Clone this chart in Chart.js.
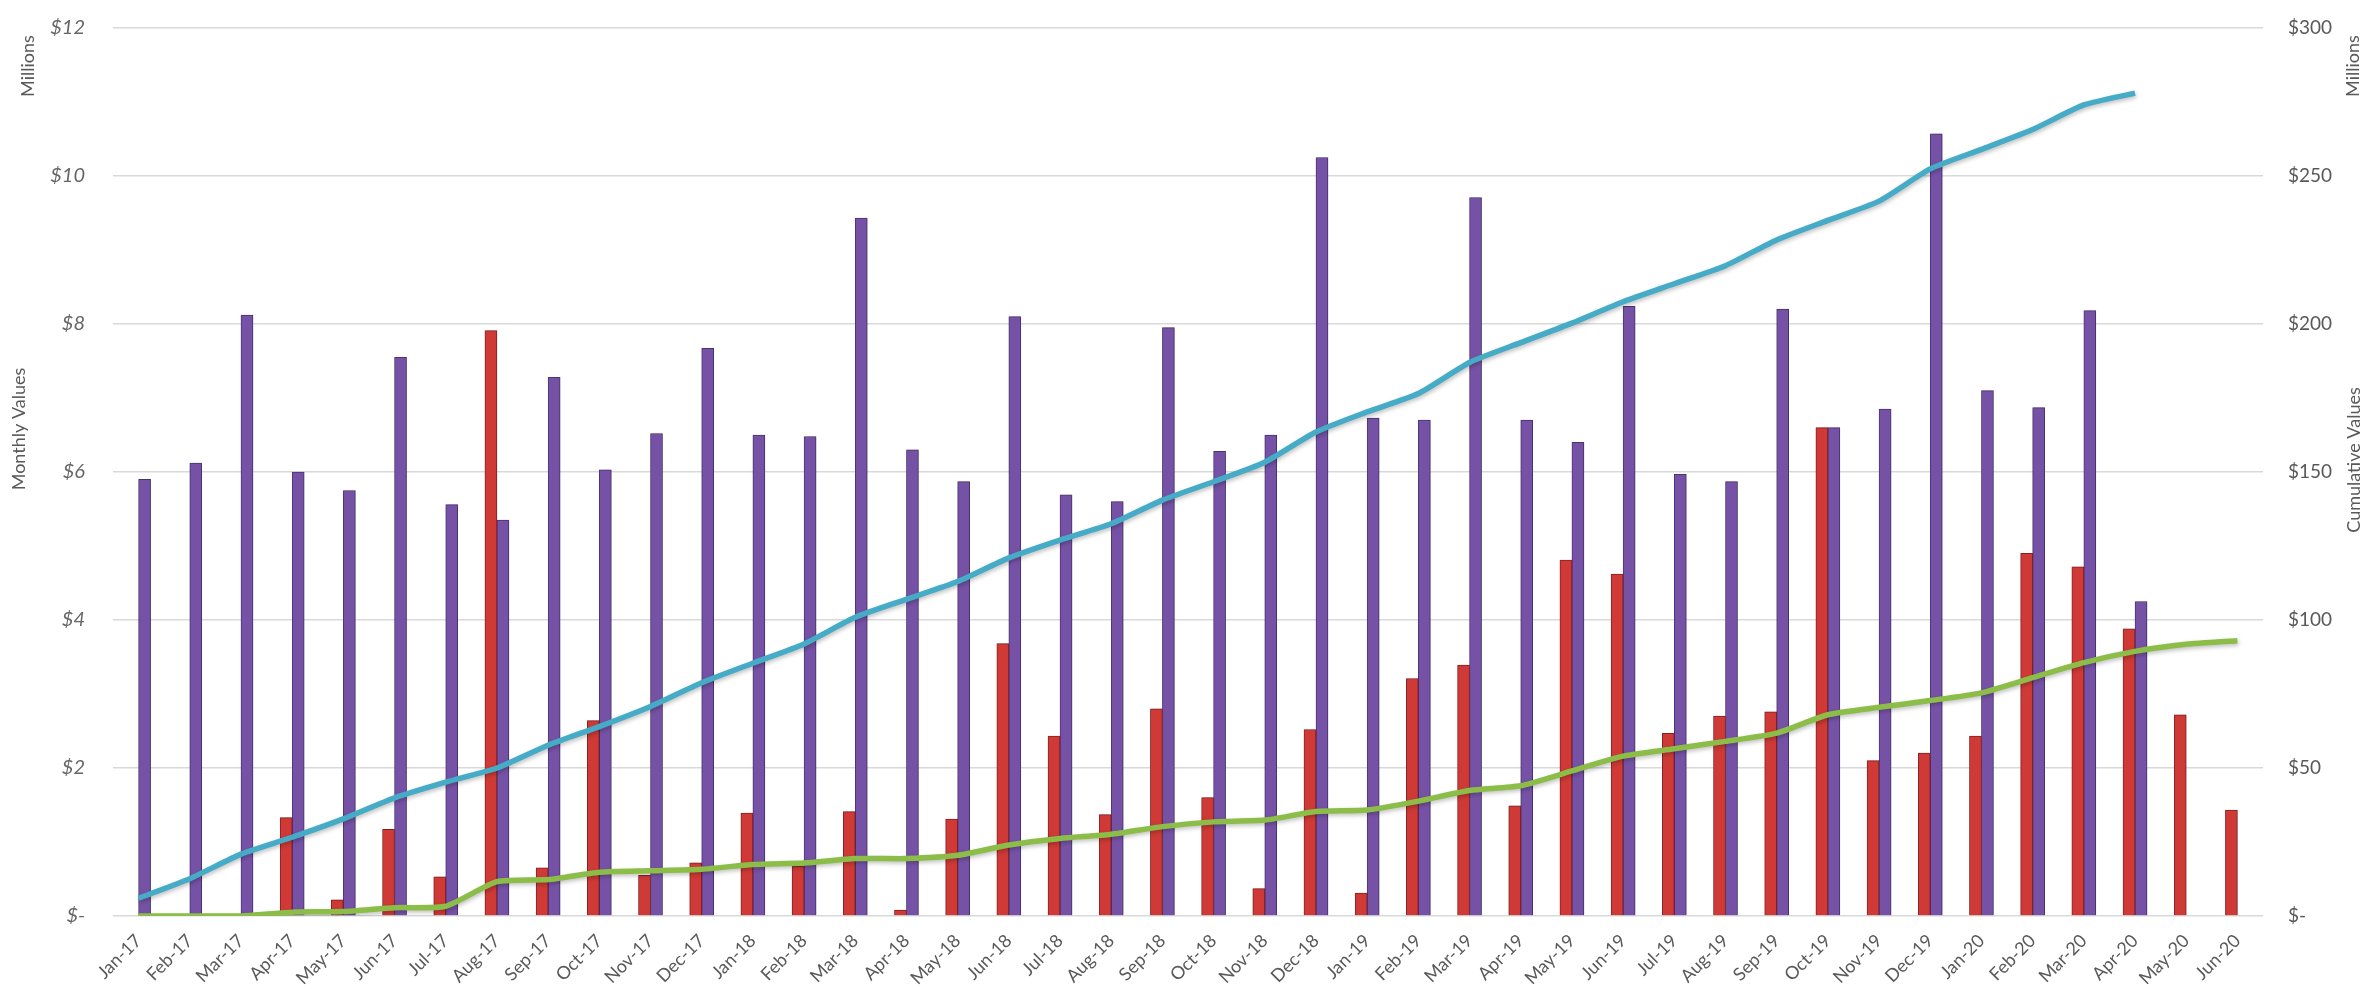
<!DOCTYPE html>
<html lang="en">
<head>
    <meta charset="UTF-8">
    <title>Monthly and Cumulative Values</title>
    <script src="https://cdn.jsdelivr.net/npm/chart.js"></script>
    <style>
        body {
            margin: 0;
            background: #ffffff;
        }

        .chart-wrap {
            width: 2371px;
            height: 989px;
            position: relative;
        }
    </style>
</head>
<body>
    <div class="chart-wrap">
        <canvas id="valuesChart"></canvas>
    </div>

    <script>
        // data (millions)
        const months = ['Jan-17','Feb-17','Mar-17','Apr-17','May-17','Jun-17','Jul-17','Aug-17','Sep-17','Oct-17','Nov-17','Dec-17',
                        'Jan-18','Feb-18','Mar-18','Apr-18','May-18','Jun-18','Jul-18','Aug-18','Sep-18','Oct-18','Nov-18','Dec-18',
                        'Jan-19','Feb-19','Mar-19','Apr-19','May-19','Jun-19','Jul-19','Aug-19','Sep-19','Oct-19','Nov-19','Dec-19',
                        'Jan-20','Feb-20','Mar-20','Apr-20','May-20','Jun-20'];

        const redMonthly = [0, 0, 0, 1.33, 0.22, 1.17, 0.53, 7.91, 0.65, 2.64, 0.55, 0.72,
                            1.39, 0.67, 1.41, 0.08, 1.31, 3.68, 2.43, 1.37, 2.80, 1.60, 0.37, 2.52,
                            0.31, 3.21, 3.39, 1.49, 4.81, 4.62, 2.47, 2.70, 2.76, 6.60, 2.10, 2.20,
                            2.43, 4.90, 4.72, 3.88, 2.72, 1.43];

        const purpleMonthly = [5.90, 6.12, 8.12, 6.00, 5.75, 7.55, 5.56, 5.35, 7.28, 6.03, 6.52, 7.67,
                               6.50, 6.48, 9.43, 6.30, 5.87, 8.10, 5.69, 5.60, 7.95, 6.28, 6.50, 10.25,
                               6.73, 6.70, 9.71, 6.70, 6.40, 8.24, 5.97, 5.87, 8.20, 6.60, 6.85, 10.57,
                               7.10, 6.87, 8.18, 4.25, null, null];

        const blueCumulative = [6.0, 12.6, 20.9, 26.6, 32.8, 39.9, 45.2, 50.0, 57.7, 64.0, 70.8, 78.8,
                                85.4, 91.9, 100.9, 107.0, 113.0, 121.0, 127.0, 132.5, 140.5, 146.7, 153.3, 163.5,
                                170.3, 176.5, 187.0, 193.7, 200.3, 207.5, 213.6, 219.7, 228.4, 235.0, 241.5, 252.4,
                                259.0, 265.7, 274.0, 278.0, null, null];

        const greenCumulative = [0, 0, 0, 1.3, 1.5, 2.8, 3.3, 11.6, 12.3, 14.8, 15.3, 15.8,
                                 17.4, 17.9, 19.4, 19.4, 20.5, 24.0, 26.2, 27.6, 30.2, 31.8, 32.4, 35.3,
                                 35.8, 38.8, 42.4, 44.0, 49.0, 54.0, 56.5, 59.0, 61.8, 68.0, 70.5, 72.8,
                                 75.4, 80.5, 85.6, 89.4, 91.8, 93.0];

        const leftTicks = [0, 2, 4, 6, 8, 10, 12];
        const rightTicks = [0, 50, 100, 150, 200, 250, 300];

        const textGray = '#595959';
        const gridGray = '#d9d9d9';

        // axis captions: "Millions" at the top, titles slightly above middle
        const axisCaptions = {
            id: 'axisCaptions',
            afterDraw(chart) {
                const ctx = chart.ctx;
                ctx.save();
                ctx.fillStyle = textGray;
                ctx.textAlign = 'center';
                ctx.textBaseline = 'middle';
                const items = [
                    { text: 'Millions', x: 28, y: 66 },
                    { text: 'Millions', x: 2353, y: 66 },
                    { text: 'Monthly Values', x: 19, y: 429 },
                    { text: 'Cumulative Values', x: 2354, y: 460 }
                ];
                items.forEach(it => {
                    ctx.save();
                    ctx.font = '18px Lato';
                    ctx.translate(it.x, it.y);
                    ctx.rotate(-Math.PI / 2);
                    ctx.fillText(it.text, 0, 0);
                    ctx.restore();
                });
                ctx.restore();
            }
        };

        // soft drop shadow on lines and bars, like the spreadsheet styling
        const markShadow = {
            id: 'markShadow',
            beforeDatasetDraw(chart, args) {
                const ctx = chart.ctx;
                ctx.save();
                if (args.meta.type === 'line') {
                    ctx.shadowColor = 'rgba(0,0,0,0.25)';
                    ctx.shadowBlur = 4;
                    ctx.shadowOffsetX = 1;
                    ctx.shadowOffsetY = 2;
                } else {
                    ctx.shadowColor = 'rgba(0,0,0,0.2)';
                    ctx.shadowBlur = 3;
                    ctx.shadowOffsetX = 1;
                    ctx.shadowOffsetY = 0;
                }
            },
            afterDatasetDraw(chart) {
                chart.ctx.restore();
            }
        };

        function money(v) {
            return v === 0 ? '$-' : '$' + v;
        }

        // fixed side width; keep label padding from pushing the plot top down
        function fixSide(width) {
            return function (scale) {
                scale.width = width;
                scale.paddingTop = 10;
                scale.paddingBottom = 10;
            };
        }

        const ctx = document.getElementById('valuesChart').getContext('2d');
        new Chart(ctx, {
            data: {
                labels: months,
                datasets: [
                    {
                        type: 'line',
                        label: 'Cumulative (blue)',
                        data: blueCumulative,
                        yAxisID: 'yRight',
                        borderColor: '#45abc6',
                        borderWidth: 5.5,
                        pointRadius: 0,
                        tension: 0.2,
                        order: 0
                    },
                    {
                        type: 'line',
                        label: 'Cumulative (green)',
                        data: greenCumulative,
                        yAxisID: 'yRight',
                        borderColor: '#8cbd48',
                        borderWidth: 5.5,
                        pointRadius: 0,
                        tension: 0.2,
                        order: 0
                    },
                    {
                        type: 'bar',
                        label: 'Monthly (red)',
                        data: redMonthly,
                        yAxisID: 'yLeft',
                        backgroundColor: '#cf3a36',
                        borderColor: '#8f2222',
                        borderWidth: 1,
                        barThickness: 12,
                        order: 1
                    },
                    {
                        type: 'bar',
                        label: 'Monthly (purple)',
                        data: purpleMonthly,
                        yAxisID: 'yLeft',
                        backgroundColor: '#7652a6',
                        borderColor: '#4f3578',
                        borderWidth: 1,
                        barThickness: 12,
                        order: 1
                    }
                ]
            },
            options: {
                responsive: true,
                maintainAspectRatio: false,
                animation: false,
                layout: {
                    padding: { top: 28, left: 0, right: 0, bottom: 0 }
                },
                plugins: {
                    legend: { display: false },
                    tooltip: { enabled: false }
                },
                scales: {
                    x: {
                        grid: { display: false, drawTicks: false },
                        border: { display: false },
                        ticks: {
                            color: textGray,
                            font: { family: 'Lato', size: 18 },
                            minRotation: 45,
                            maxRotation: 45,
                            autoSkip: false,
                            padding: 14
                        },
                        afterFit(scale) { scale.height = 73; }
                    },
                    yLeft: {
                        position: 'left',
                        min: 0,
                        max: 12,
                        afterBuildTicks(scale) {
                            scale.ticks = leftTicks.map(v => ({ value: v }));
                        },
                        grid: { color: gridGray, lineWidth: 1.5, drawTicks: false },
                        border: { display: false },
                        ticks: {
                            color: '#666666',
                            font: { family: 'Lato', size: 20, style: 'italic' },
                            padding: 28,
                            callback: money
                        },
                        afterFit: fixSide(113)
                    },
                    yRight: {
                        position: 'right',
                        min: 0,
                        max: 300,
                        afterBuildTicks(scale) {
                            scale.ticks = rightTicks.map(v => ({ value: v }));
                        },
                        grid: { display: false, drawTicks: false },
                        border: { display: false },
                        ticks: {
                            color: textGray,
                            font: { family: 'Lato', size: 19 },
                            padding: 25,
                            callback: money
                        },
                        afterFit: fixSide(108)
                    }
                }
            },
            plugins: [axisCaptions, markShadow]
        });
    </script>
</body>
</html>
